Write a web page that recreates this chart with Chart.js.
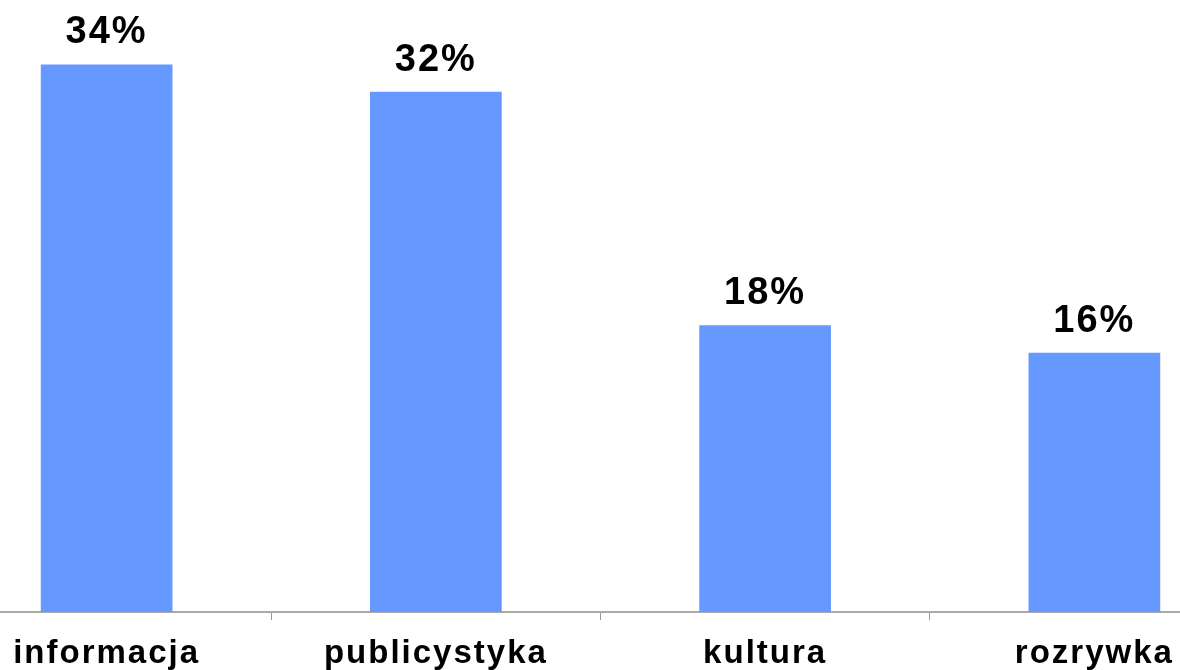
<!DOCTYPE html>
<html>
<head>
<meta charset="utf-8">
<script src="https://cdn.jsdelivr.net/npm/chart.js@4"></script>
<style>
  html, body { margin: 0; padding: 0; background: #fff; overflow: hidden; }
  #wrap { position: absolute; left: -58px; top: 0; width: 1317px; height: 670px; }
</style>
</head>
<body>
<div id="wrap"><canvas id="myChart"></canvas></div>
<script>
const categories = ["informacja", "publicystyka", "kultura", "rozrywka"];
const shares = [34.0, 32.3, 17.8, 16.1];
const valueLabels = ["34%", "32%", "18%", "16%"];

// labels above bars
const barLabels = {
    id: 'barLabels',
    afterDatasetsDraw(chart) {
        const ctx = chart.ctx;
        const meta = chart.getDatasetMeta(0);
        ctx.save();
        ctx.font = 'bold 38px "Liberation Sans", Arial, sans-serif';
        ctx.letterSpacing = '2px';
        ctx.fillStyle = '#000';
        ctx.textAlign = 'center';
        ctx.textBaseline = 'alphabetic';
        meta.data.forEach((bar, i) => {
            ctx.fillText(valueLabels[i], bar.x, bar.y - 21);
        });
        ctx.restore();
    }
};

const spacing = {
    id: 'spacing',
    beforeDraw(chart) {
        chart.ctx.letterSpacing = '2px';
    }
};

const ctx = document.getElementById("myChart").getContext("2d");
window.myChart = new Chart(ctx, {
    type: 'bar',
    data: {
        labels: categories,
        datasets: [{
            data: shares,
            backgroundColor: '#6699FF',
            borderWidth: 0,
            barPercentage: 0.4,
            categoryPercentage: 1
        }]
    },
    options: {
        responsive: true,
        maintainAspectRatio: false,
        animation: false,
        layout: { padding: { top: 0, left: 0, right: 0, bottom: -17 } },
        plugins: {
            legend: { display: false },
            tooltip: { enabled: false }
        },
        scales: {
            x: {
                grid: {
                    display: true,
                    drawOnChartArea: false,
                    drawTicks: true,
                    tickLength: 8,
                    color: '#999'
                },
                border: { display: true, color: '#aaa', width: 2 },
                ticks: {
                    color: '#000',
                    padding: 16,
                    maxRotation: 0,
                    font: { family: '"Liberation Sans", Arial, sans-serif', size: 33, weight: 'bold', lineHeight: 1.06 }
                }
            },
            y: {
                display: false,
                min: 0,
                max: 38
            }
        }
    },
    plugins: [spacing, barLabels]
});
</script>
</body>
</html>
